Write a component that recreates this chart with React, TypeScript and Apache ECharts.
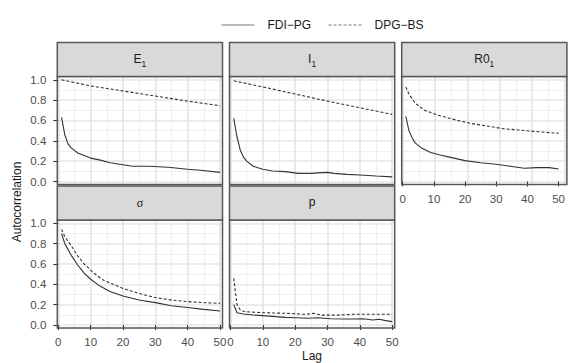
import React, { useEffect, useRef } from "react";
import * as echarts from "echarts";

// ---------- data (lag, autocorrelation) ----------
const PANEL_KEYS = ["E1", "I1", "R01", "sigma", "p"];
const SERIES_NAMES = ["FDI−PG", "DPG−BS"];
const X_TICKS = [0, 10, 20, 30, 40, 50];
const Y_TICKS = [0, 0.2, 0.4, 0.6, 0.8, 1.0];

const E1_FDI_PG: [number, number][] = [[1,0.63],[2,0.46],[3,0.37],[4,0.33],[6,0.28],[8,0.255],[10,0.23],[13,0.21],[16,0.185],[20,0.165],[23,0.15],[28,0.15],[34,0.14],[37,0.13],[40,0.12],[44,0.11],[50,0.09]];
const E1_DPG_BS: [number, number][] = [[1,1.0],[10,0.94],[20,0.89],[30,0.84],[40,0.79],[50,0.745]];
const I1_FDI_PG: [number, number][] = [[1,0.62],[2,0.44],[3,0.31],[4,0.24],[5,0.2],[7,0.15],[10,0.12],[13,0.103],[17,0.097],[21,0.08],[25,0.08],[27,0.085],[30,0.09],[32,0.08],[36,0.07],[40,0.064],[45,0.054],[50,0.045]];
const I1_DPG_BS: [number, number][] = [[1,0.99],[10,0.93],[20,0.86],[30,0.79],[40,0.725],[50,0.66]];
const R01_FDI_PG: [number, number][] = [[1,0.64],[2,0.5],[3,0.43],[4,0.38],[6,0.33],[9,0.285],[12,0.26],[15,0.24],[20,0.205],[25,0.185],[30,0.17],[35,0.148],[39,0.13],[43,0.136],[47,0.136],[50,0.123]];
const R01_DPG_BS: [number, number][] = [[1,0.93],[2,0.86],[4,0.77],[7,0.7],[11,0.655],[17,0.605],[22,0.57],[27,0.546],[32,0.52],[37,0.507],[42,0.493],[50,0.474]];
const SIGMA_FDI_PG: [number, number][] = [[1,0.9],[2,0.8],[4,0.685],[6,0.59],[8,0.51],[10,0.45],[13,0.38],[16,0.33],[20,0.285],[25,0.246],[30,0.22],[35,0.19],[40,0.172],[45,0.154],[50,0.138]];
const SIGMA_DPG_BS: [number, number][] = [[1,0.94],[2,0.87],[4,0.78],[6,0.68],[8,0.6],[11,0.51],[14,0.44],[17,0.4],[20,0.36],[25,0.31],[30,0.27],[35,0.245],[40,0.23],[45,0.22],[50,0.213]];
const P_FDI_PG: [number, number][] = [[1,0.2],[2,0.12],[4,0.108],[7,0.098],[10,0.092],[14,0.082],[17,0.075],[20,0.072],[24,0.066],[27,0.072],[31,0.062],[35,0.059],[38,0.059],[41,0.062],[44,0.049],[46,0.056],[48,0.043],[50,0.033]];
const P_DPG_BS: [number, number][] = [[1,0.46],[2,0.2],[3,0.15],[4,0.135],[6,0.128],[10,0.121],[17,0.115],[23,0.105],[26,0.115],[28,0.097],[33,0.097],[38,0.105],[43,0.105],[50,0.105]];

const PANEL_DATA: [number, number][][][] = [
  [E1_FDI_PG, E1_DPG_BS],
  [I1_FDI_PG, I1_DPG_BS],
  [R01_FDI_PG, R01_DPG_BS],
  [SIGMA_FDI_PG, SIGMA_DPG_BS],
  [P_FDI_PG, P_DPG_BS],
];

const STRIP_LABELS: Record<string, string> = {
  E1: "{a|E}{s|1}",
  I1: "{a|I}{s|1}",
  R01: "{a|R0}{s|1}",
  sigma: "{g|σ}",
  p: "{a|p}",
};

// ---------- layout ----------
const FONT = "Liberation Sans, Arial, Helvetica, sans-serif";
const COL_X0 = [58.3, 230.5, 402.7]; // pixel of lag 0
const X_SPAN = 161.7; // pixels for 0..50
const ROW_TOP = [76.5, 220]; // panel top
const PANEL_H = 108;
const Y_TOP_PAD = 3.3;
const Y_SPAN = 101.7; // pixels for 0..1
const STRIP_H = 34;
const BORDER = "#575757";
const LINE_COLOR = "#333333";

export default function App() {
  const ref = useRef<HTMLDivElement>(null);
  useEffect(() => {
    const chart = echarts.init(ref.current!, null, { renderer: "svg" });
    const grids: any[] = [];
    const xAxes: any[] = [];
    const yAxes: any[] = [];
    const series: any[] = [];
    const graphics: any[] = [];

    const gridLineMajor = { show: true, lineStyle: { color: "#E6E6E6", width: 1.7 } };
    const gridLineMinor = { show: true, lineStyle: { color: "#EDEDED", width: 0.9 } };

    PANEL_KEYS.forEach((key, i) => {
      const col = i % 3;
      const row = Math.floor(i / 3);
      const x0 = COL_X0[col];
      const pLeft = x0 - 1;
      const pW = X_SPAN + 3.5;
      const pTop = ROW_TOP[row];
      const y1 = pTop + Y_TOP_PAD;
      const base = grids.length;

      // grid for vertical gridlines (full panel height)
      grids.push({ left: x0, top: pTop, width: X_SPAN, height: PANEL_H });
      xAxes.push({
        type: "value", gridIndex: base, min: 0, max: 50, interval: 10,
        axisLine: { show: false }, axisTick: { show: false }, axisLabel: { show: false },
        splitLine: gridLineMajor, minorTick: { show: false, splitNumber: 2 }, minorSplitLine: gridLineMinor,
      });
      yAxes.push({ type: "value", gridIndex: base, min: 0, max: 1, show: false });

      // grid for horizontal gridlines (full panel width)
      grids.push({ left: pLeft, top: y1, width: pW, height: Y_SPAN });
      xAxes.push({ type: "value", gridIndex: base + 1, min: 0, max: 1, show: false });
      yAxes.push({
        type: "value", gridIndex: base + 1, min: 0, max: 1, interval: 0.2,
        axisLine: { show: false }, axisTick: { show: false }, axisLabel: { show: false },
        splitLine: gridLineMajor, minorTick: { show: false, splitNumber: 2 }, minorSplitLine: gridLineMinor,
      });

      // data grid
      const showX = i >= 2;
      const showY = col === 0;
      grids.push({ left: x0, top: y1, width: X_SPAN, height: Y_SPAN });
      xAxes.push({
        type: "value", gridIndex: base + 2, min: 0, max: 50, interval: 10,
        offset: pTop + PANEL_H - (y1 + Y_SPAN),
        axisLine: { show: false },
        axisTick: { show: showX, length: 5, lineStyle: { color: "#333", width: 1.1 } },
        axisLabel: { show: showX, margin: 8, fontSize: 11.5, color: "#4D4D4D", fontFamily: FONT, showMinLabel: true, showMaxLabel: true },
        splitLine: { show: false },
      });
      yAxes.push({
        type: "value", gridIndex: base + 2, min: 0, max: 1, interval: 0.2,
        offset: x0 - pLeft,
        axisLine: { show: false },
        axisTick: { show: showY, length: 5, lineStyle: { color: "#333", width: 1.1 } },
        axisLabel: { show: showY, margin: 11, fontSize: 11.5, color: "#4D4D4D", fontFamily: FONT, formatter: (v: number) => v.toFixed(1) },
        splitLine: { show: false },
      });

      PANEL_DATA[i].forEach((d, k) => {
        series.push({
          name: SERIES_NAMES[k],
          type: "line",
          xAxisIndex: base + 2,
          yAxisIndex: base + 2,
          data: d,
          symbol: "none",
          showSymbol: false,
          silent: true,
          clip: false,
          color: LINE_COLOR,
          itemStyle: { color: LINE_COLOR },
          lineStyle: { color: LINE_COLOR, width: 1.1, type: k === 0 ? "solid" : [3, 2] },
          z: 5,
        });
      });

      // panel border
      graphics.push({
        type: "rect", z: 100,
        shape: { x: pLeft, y: pTop, width: pW, height: PANEL_H },
        style: { fill: "none", stroke: BORDER, lineWidth: 1.5 },
      });
      // strip
      graphics.push({
        type: "rect", z: 100,
        shape: { x: pLeft, y: pTop - STRIP_H, width: pW, height: STRIP_H },
        style: { fill: "#D9D9D9", stroke: BORDER, lineWidth: 1.5 },
      });
      graphics.push({
        type: "text", z: 101,
        x: pLeft + pW / 2, y: pTop - STRIP_H / 2,
        style: {
          text: STRIP_LABELS[key],
          align: "center", verticalAlign: "middle",
          fill: "#1A1A1A",
          rich: {
            a: { fontSize: 12, fontFamily: FONT, fill: "#1A1A1A", lineHeight: 14, verticalAlign: "top" },
            s: { fontSize: 8.5, fontFamily: FONT, fill: "#1A1A1A", lineHeight: 9, padding: [7, 0, 0, 0], verticalAlign: "top" },
            g: { fontSize: 12, fontFamily: "Liberation Serif, DejaVu Serif, serif", fill: "#1A1A1A", lineHeight: 14 },
          },
        },
      });
    });

    // axis titles
    graphics.push({
      type: "text", z: 101, x: 17, y: 202, rotation: Math.PI / 2,
      style: { text: "Autocorrelation", align: "center", verticalAlign: "middle", fill: "#1A1A1A", font: `12px ${FONT}` },
    });
    graphics.push({
      type: "text", z: 101, x: 312, y: 356,
      style: { text: "Lag", align: "center", verticalAlign: "middle", fill: "#1A1A1A", font: `12px ${FONT}` },
    });

    chart.setOption({
      animation: false,
      backgroundColor: "#FFFFFF",
      color: [LINE_COLOR, LINE_COLOR],
      textStyle: { fontFamily: FONT },
      legend: {
        data: SERIES_NAMES,
        top: 14,
        left: 216,
        itemWidth: 33,
        itemHeight: 12,
        itemGap: 17,
        selectedMode: false,
        itemStyle: { opacity: 0 },
        textStyle: { fontSize: 12, color: "#1A1A1A", fontFamily: FONT, padding: [0, 0, 0, 8] },
        lineStyle: { width: 0.9, color: "#666" },
      },
      grid: grids,
      xAxis: xAxes,
      yAxis: yAxes,
      series,
      graphic: graphics,
    });
    return () => chart.dispose();
  }, []);
  return <div ref={ref} style={{ position: "fixed", left: 0, top: 0, width: 568, height: 363 }} />;
}
